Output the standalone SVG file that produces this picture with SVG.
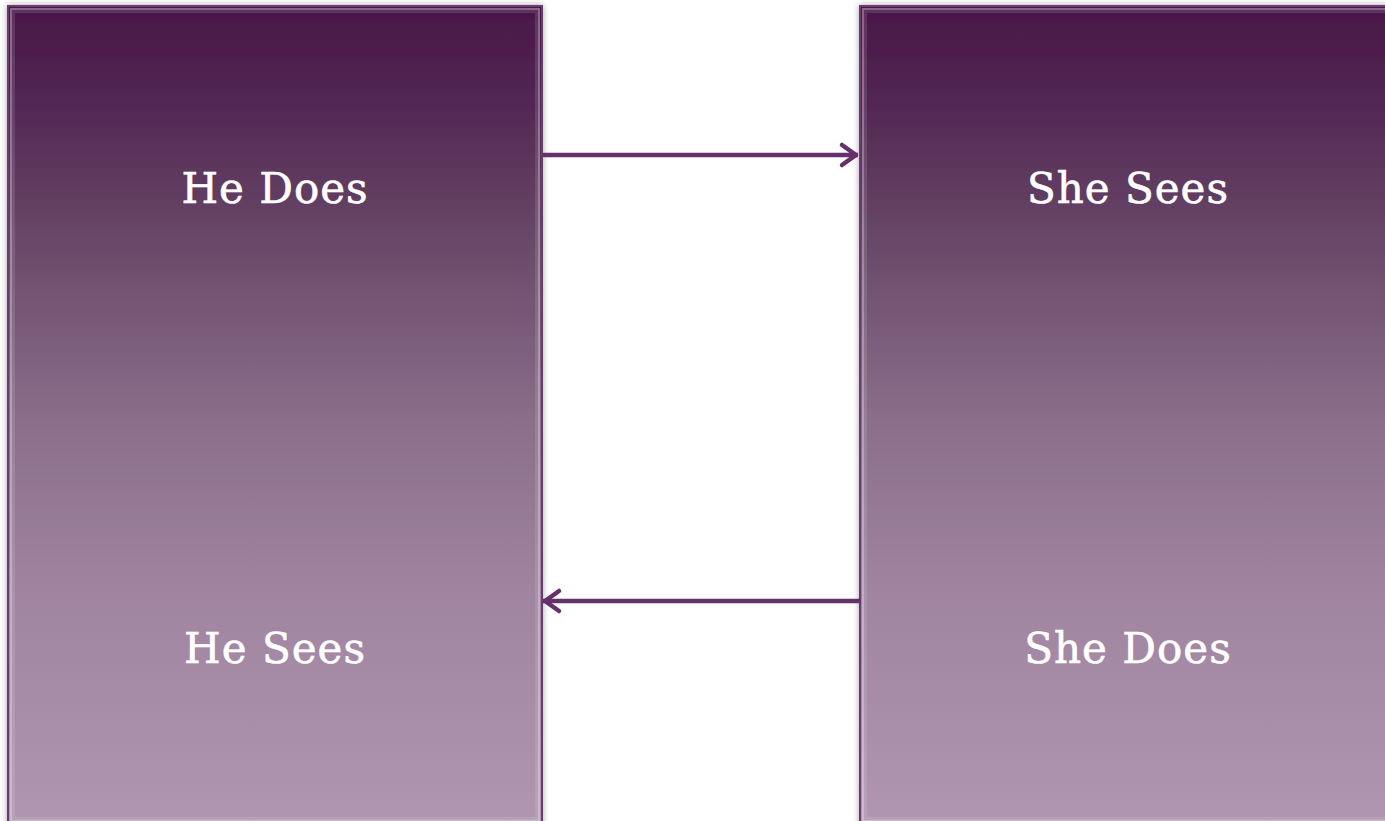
<svg xmlns="http://www.w3.org/2000/svg" width="1385" height="821" viewBox="0 0 1385 821">
  <style>
    .panel { fill: url(#panelFill); stroke: #6b3a6f; stroke-width: 2; }
    .bevel { fill: none; stroke: #ffffff; }
    .label { font-family: "DejaVu Serif", "Liberation Serif", serif; font-size: 42px; letter-spacing: 1px; fill: #ffffff; text-anchor: middle; stroke: #ffffff; stroke-width: 0.6; }
    .link { stroke: #66306a; stroke-width: 4.5; fill: none; }
  </style>
  <defs>
    <linearGradient id="panelFill" x1="0" y1="0" x2="0" y2="1">
      <stop offset="0" stop-color="#4a1747"/>
      <stop offset="0.12" stop-color="#522753"/>
      <stop offset="0.3" stop-color="#6a4b6a"/>
      <stop offset="0.5" stop-color="#8a6d89"/>
      <stop offset="0.72" stop-color="#a084a0"/>
      <stop offset="1" stop-color="#b096b0"/>
    </linearGradient>
    <filter id="shadow" x="-5%" y="-5%" width="110%" height="110%">
      <feDropShadow dx="0" dy="0" stdDeviation="3" flood-color="#000000" flood-opacity="0.35"/>
    </filter>
    <marker id="chevron" markerUnits="userSpaceOnUse" markerWidth="30" markerHeight="30" refX="22" refY="15" orient="auto">
      <path d="M6,5 L20,15 L6,25" fill="none" stroke="#66306a" stroke-width="4.5" stroke-linecap="round" stroke-linejoin="round"/>
    </marker>
  </defs>

  <rect width="1385" height="821" fill="#ffffff"/>

  <g id="he-panel">
    <rect class="panel" x="8" y="6" width="534" height="818" filter="url(#shadow)"/>
    <rect class="bevel" x="11" y="9" width="528" height="812" stroke-width="2" stroke-opacity="0.35"/>
    <rect class="bevel" x="13.5" y="11.5" width="523" height="807" stroke-width="3" stroke-opacity="0.12"/>
    <text class="label" x="275" y="203">He Does</text>
    <text class="label" x="275" y="663">He Sees</text>
  </g>

  <g id="she-panel">
    <rect class="panel" x="860" y="6" width="534" height="818" filter="url(#shadow)"/>
    <rect class="bevel" x="863" y="9" width="528" height="812" stroke-width="2" stroke-opacity="0.35"/>
    <rect class="bevel" x="865.5" y="11.5" width="523" height="807" stroke-width="3" stroke-opacity="0.12"/>
    <text class="label" x="1128" y="203">She Sees</text>
    <text class="label" x="1128" y="663">She Does</text>
  </g>

  <g id="connectors">
    <line class="link" x1="543" y1="155" x2="858" y2="155" marker-end="url(#chevron)"/>
    <line class="link" x1="860" y1="601" x2="543" y2="601" marker-end="url(#chevron)"/>
  </g>
</svg>
